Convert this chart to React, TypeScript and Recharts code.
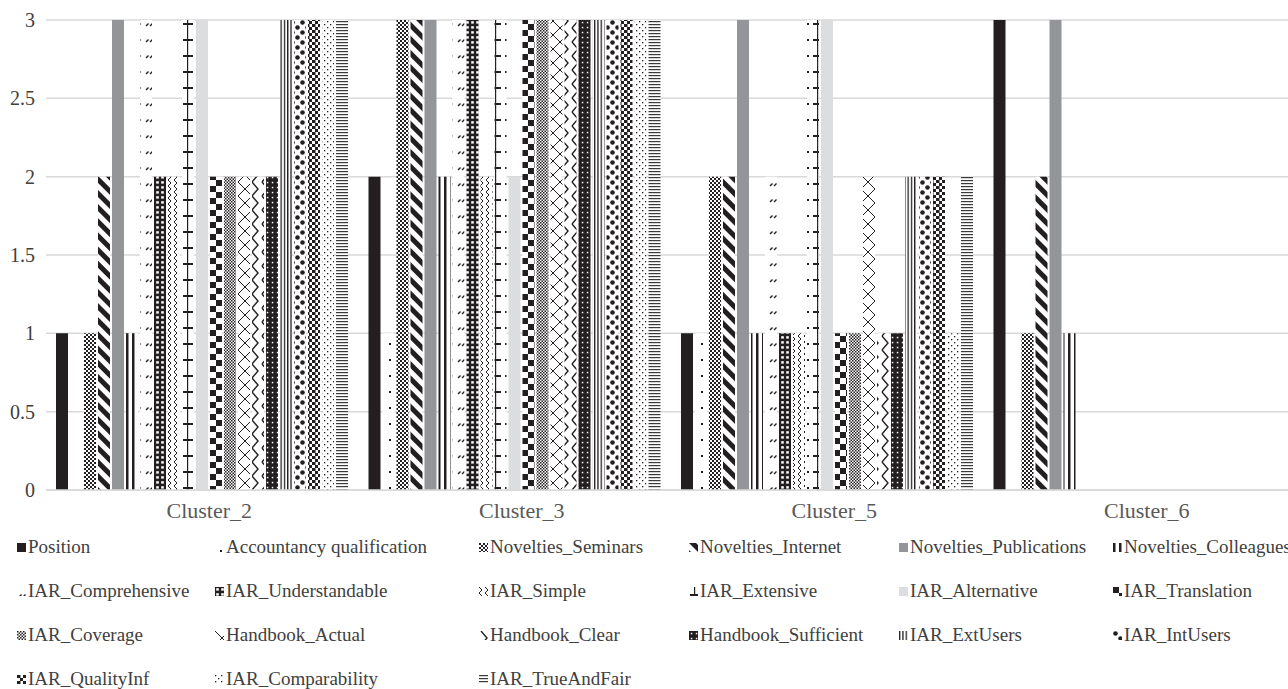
import React from 'react';
import { BarChart, Bar, XAxis, YAxis, CartesianGrid } from 'recharts';

const clusters = ['Cluster_2', 'Cluster_3', 'Cluster_5', 'Cluster_6'];

const seriesNames = [
  'Position', 'Accountancy qualification', 'Novelties_Seminars', 'Novelties_Internet',
  'Novelties_Publications', 'Novelties_Colleagues', 'IAR_Comprehensive', 'IAR_Understandable',
  'IAR_Simple', 'IAR_Extensive', 'IAR_Alternative', 'IAR_Translation',
  'IAR_Coverage', 'Handbook_Actual', 'Handbook_Clear', 'Handbook_Sufficient',
  'IAR_ExtUsers', 'IAR_IntUsers', 'IAR_QualityInf', 'IAR_Comparability', 'IAR_TrueAndFair',
];

// one value per cluster, in the order of `clusters`
const position = [1, 2, 1, 3];
const accountancy = [0, 1, 1, 0];
const seminars = [1, 3, 2, 1];
const internet = [2, 3, 2, 2];
const publications = [3, 3, 3, 3];
const colleagues = [1, 2, 1, 1];
const comprehensive = [3, 3, 2, 0];
const understandable = [2, 3, 1, 0];
const simple = [2, 2, 1, 0];
const extensive = [3, 3, 3, 0];
const alternative = [3, 2, 3, 0];
const translation = [2, 3, 1, 0];
const coverage = [2, 3, 1, 0];
const actual = [2, 3, 2, 0];
const clear = [2, 3, 1, 0];
const sufficient = [2, 3, 1, 0];
const extUsers = [3, 3, 2, 0];
const intUsers = [3, 3, 2, 0];
const qualityInf = [3, 3, 2, 0];
const comparability = [3, 3, 1, 0];
const trueAndFair = [3, 3, 2, 0];

const yTicks = [0, 0.5, 1, 1.5, 2, 2.5, 3];

const seriesValues = [
  position, accountancy, seminars, internet, publications, colleagues, comprehensive,
  understandable, simple, extensive, alternative, translation, coverage, actual, clear,
  sufficient, extUsers, intUsers, qualityInf, comparability, trueAndFair,
];

const data = clusters.map((c, ci) => {
  const row: Record<string, any> = { name: c };
  seriesNames.forEach((s, si) => { row[s] = seriesValues[si][ci]; });
  return row;
});

const BLACK = '#231f20';

// fill for each series, same order as seriesNames
const fills = [
  BLACK, 'url(#p-acc)', 'url(#p-sem)', 'url(#p-int)', '#939598', 'url(#p-col)', 'url(#p-comp)',
  'url(#p-und)', 'url(#p-simp)', 'url(#p-ext)', '#dcdddf', 'url(#p-tran)', 'url(#p-cov)',
  'url(#p-act)', 'url(#p-clr)', 'url(#p-suf)', 'url(#p-extu)', 'url(#p-intu)', 'url(#p-qual)',
  'url(#p-cmpb)', 'url(#p-tf)',
];

function Patterns() {
  const P = (props: any) => <pattern patternUnits="userSpaceOnUse" {...props} />;
  return (
    <svg width={0} height={0} style={{ position: 'absolute' }}>
      <defs>
        <P id="p-acc" width={12} height={16}>
          <rect width={12} height={16} fill="#fff" />
          <rect x={5} y={7} width={2} height={2} fill={BLACK} />
        </P>
        <P id="p-sem" width={4} height={4}>
          <rect width={4} height={4} fill="#fff" />
          <rect width={2} height={2} fill={BLACK} />
          <rect x={2} y={2} width={2} height={2} fill={BLACK} />
        </P>
        <P id="p-int" width={10} height={10} patternTransform="rotate(-45)">
          <rect width={10} height={10} fill="#fff" />
          <rect width={5} height={10} fill={BLACK} />
        </P>
        <P id="p-col" width={6} height={6}>
          <rect width={6} height={6} fill="#fff" />
          <rect width={2.5} height={6} fill={BLACK} />
        </P>
        <P id="p-comp" width={12} height={16}>
          <rect width={12} height={16} fill="#fff" />
          <path d="M2 10 L4.5 7.5 M6 10 L8.5 7.5" stroke={BLACK} strokeWidth={1.4} />
        </P>
        <P id="p-und" width={5} height={5}>
          <rect width={5} height={5} fill={BLACK} />
          <rect x={1.2} y={1.2} width={2.6} height={2.4} fill="#fff" />
        </P>
        <P id="p-simp" width={6} height={6}>
          <rect width={6} height={6} fill="#fff" />
          <path d="M0 0 L3 3 L0 6" stroke={BLACK} strokeWidth={1} fill="none" />
        </P>
        <P id="p-ext" width={14} height={16}>
          <rect width={14} height={16} fill="#fff" />
          <rect x={1} y={7} width={10} height={2} fill={BLACK} />
          <rect x={5} y={0} width={1.2} height={16} fill={BLACK} />
        </P>
        <P id="p-tran" width={12} height={12}>
          <rect width={12} height={12} fill="#fff" />
          <rect width={6} height={6} fill={BLACK} />
          <rect x={6} y={6} width={6} height={6} fill={BLACK} />
        </P>
        <P id="p-cov" width={3} height={3}>
          <rect width={3} height={3} fill="#fff" />
          <rect width={1.5} height={1.5} fill={BLACK} />
          <rect x={1.5} y={1.5} width={1.5} height={1.5} fill={BLACK} />
        </P>
        <P id="p-act" width={14} height={14}>
          <rect width={14} height={14} fill="#fff" />
          <path d="M0 0 L14 14 M14 0 L0 14" stroke={BLACK} strokeWidth={1} />
        </P>
        <P id="p-clr" width={10} height={14}>
          <rect width={10} height={14} fill="#fff" />
          <path d="M2 0 L8 7 L2 14" stroke={BLACK} strokeWidth={1.4} fill="none" />
        </P>
        <P id="p-suf" width={5} height={5}>
          <rect width={5} height={5} fill={BLACK} />
          <rect x={1.8} y={1.8} width={1.5} height={1.5} fill="#fff" />
        </P>
        <P id="p-extu" width={3.3} height={6}>
          <rect width={3.3} height={6} fill="#fff" />
          <rect width={1.3} height={6} fill={BLACK} />
        </P>
        <P id="p-intu" width={10} height={10}>
          <rect width={10} height={10} fill="#fff" />
          <circle cx={2.5} cy={2.5} r={2.3} fill={BLACK} />
          <circle cx={7.5} cy={7.5} r={2.3} fill={BLACK} />
        </P>
        <P id="p-qual" width={6} height={6}>
          <rect width={6} height={6} fill="#fff" />
          <rect width={3.5} height={3} fill={BLACK} />
          <rect x={3} y={3} width={3} height={3} fill={BLACK} />
        </P>
        <P id="p-cmpb" width={6} height={6}>
          <rect width={6} height={6} fill="#fff" />
          <rect width={1.3} height={1.3} fill={BLACK} />
          <rect x={3} y={3} width={1.3} height={1.3} fill={BLACK} />
        </P>
        <P id="p-tf" width={16} height={3}>
          <rect width={16} height={3} fill="#fff" />
          <rect width={16} height={1.2} fill="#3a3a3a" />
        </P>
      </defs>
    </svg>
  );
}

const FONT = '"Liberation Serif", "Times New Roman", serif';
const legendCols = [28, 226, 490, 700, 910, 1124];
const legendRows = [547, 591, 635, 679];

function Legend() {
  return (
    <>
      {seriesNames.map((s, i) => (
        <div
          key={s}
          style={{
            position: 'absolute',
            left: legendCols[i % 6] - 11,
            top: legendRows[Math.floor(i / 6)] - 12,
            height: 24,
            display: 'flex',
            alignItems: 'center',
            whiteSpace: 'nowrap',
            fontSize: 19,
            color: '#404040',
          }}
        >
          <svg width={9} height={9} style={{ marginRight: 2 }}>
            <rect width={9} height={9} fill={fills[i]} />
          </svg>
          {s}
        </div>
      ))}
    </>
  );
}

export default function App() {
  return (
    <div style={{ position: 'fixed', left: 0, top: 0, width: 1288, height: 689, overflow: 'hidden', background: '#fff', fontFamily: FONT }}>
      <Patterns />
      <BarChart
        width={1300}
        height={530}
        data={data}
        margin={{ top: 20, right: 4, bottom: 10, left: 6 }}
        barGap={2}
        barCategoryGap={10}
      >
        <CartesianGrid vertical={false} stroke="#d9d9d9" strokeWidth={1.5} />
        <XAxis
          dataKey="name"
          height={30}
          tickLine={false}
          axisLine={{ stroke: '#d9d9d9', strokeWidth: 1.5 }}
          tick={{ fill: '#595959', fontSize: 22, fontFamily: FONT, dx: 7 }}
          tickMargin={6}
          interval={0}
        />
        <YAxis
          width={40}
          domain={[0, 3]}
          ticks={yTicks}
          axisLine={false}
          tickLine={false}
          tickMargin={5}
          tick={{ fill: '#404040', fontSize: 20, fontFamily: FONT }}
        />
        {seriesNames.map((s, i) => (
          <Bar key={s} dataKey={s} fill={fills[i]} isAnimationActive={false} />
        ))}
      </BarChart>
      <Legend />
    </div>
  );
}
